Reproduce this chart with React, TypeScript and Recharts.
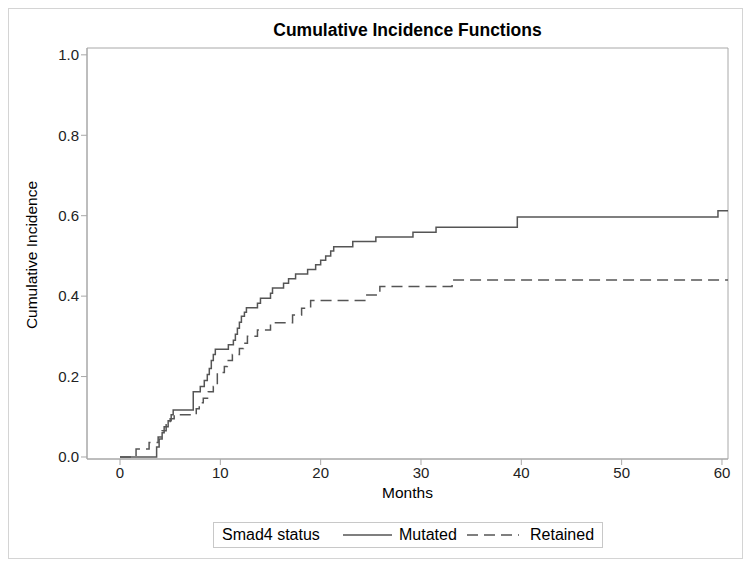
import React from 'react';
import {LineChart, Line, XAxis, YAxis, ReferenceArea} from 'recharts';

// step points: [months, cumulative incidence]
const mutatedMonths = [0, 3.65, 3.9, 4.2, 4.4, 4.8, 5.1, 5.3, 7.3, 8.0, 8.4, 8.7, 8.9, 9.1, 9.3, 9.5, 10.8, 11.3, 11.5, 11.7, 11.9, 12.1, 12.4, 12.6, 13.7, 14.0, 15.0, 15.2, 16.3, 16.8, 17.5, 18.7, 19.5, 20.0, 20.5, 21.0, 21.3, 23.2, 25.5, 29.2, 31.5, 39.6, 59.6, 60.6];
const mutatedCif = [0, 0.025, 0.045, 0.06, 0.075, 0.09, 0.105, 0.117, 0.162, 0.175, 0.19, 0.205, 0.22, 0.24, 0.255, 0.268, 0.279, 0.29, 0.305, 0.32, 0.335, 0.35, 0.36, 0.371, 0.382, 0.395, 0.407, 0.42, 0.432, 0.443, 0.455, 0.466, 0.478, 0.489, 0.5, 0.512, 0.523, 0.536, 0.547, 0.559, 0.571, 0.597, 0.612, 0.612];

const retainedMonths = [0, 1.6, 2.9, 3.8, 4.2, 4.6, 5.0, 5.4, 7.6, 7.9, 8.3, 8.8, 9.3, 9.7, 10.4, 10.7, 11.2, 11.9, 12.3, 12.7, 13.7, 15.0, 17.2, 18.1, 19.0, 24.6, 25.9, 33.1, 60.6];
const retainedCif = [0, 0.02, 0.036, 0.05, 0.065, 0.08, 0.095, 0.105, 0.12, 0.135, 0.146, 0.162, 0.175, 0.21, 0.225, 0.24, 0.255, 0.27, 0.283, 0.3, 0.316, 0.334, 0.353, 0.37, 0.389, 0.403, 0.424, 0.44, 0.44];

const xTicks = [0, 10, 20, 30, 40, 50, 60];
const yTicks = [0, 0.2, 0.4, 0.6, 0.8, 1.0];

const mutated = mutatedMonths.map((m, i) => ({month: m, cif: mutatedCif[i]}));
const retained = retainedMonths.map((m, i) => ({month: m, cif: retainedCif[i]}));

const font = '"Liberation Sans", Arial, sans-serif';
const lineColor = '#555555';
const frameColor = '#a8a8a8';

const X_MIN = -3.29, X_MAX = 60.6, Y_MIN = -0.005, Y_MAX = 1.017;

const legendText: React.CSSProperties = {position: 'absolute', top: 3, whiteSpace: 'nowrap'};

const App = () => {
    return (
        <div style={{position: 'relative', width: 735, height: 551, fontFamily: font}}>
            <div style={{position: 'absolute', left: 0, top: 0, width: 733, height: 549, border: '1px solid #d4d4d4'}}/>
            <div style={{position: 'absolute', left: 79, width: 641, top: 12, textAlign: 'center', fontWeight: 'bold', fontSize: 17.5, color: '#000'}}>
                Cumulative Incidence Functions
            </div>
            <LineChart width={735} height={551} margin={{top: 40, right: 15, bottom: 0, left: 0}} style={{position: 'absolute', left: 0, top: 0}}>
                <XAxis dataKey="month" type="number" domain={[X_MIN, X_MAX]} allowDataOverflow ticks={xTicks}
                       height={100} tickSize={6} stroke={frameColor}
                       tick={{fill: '#222', fontSize: 15, fontFamily: font}}/>
                <YAxis dataKey="cif" type="number" domain={[Y_MIN, Y_MAX]} allowDataOverflow ticks={yTicks}
                       width={79} tickSize={6} stroke={frameColor}
                       tickFormatter={(v: number) => v.toFixed(1)}
                       tick={{fill: '#222', fontSize: 15, fontFamily: font}}/>
                <ReferenceArea x1={X_MIN} x2={X_MAX} y1={Y_MIN} y2={Y_MAX} fill="none" stroke={frameColor} strokeOpacity={1}/>
                <Line data={mutated} dataKey="cif" type="stepAfter" stroke={lineColor} strokeWidth={1.5} dot={false} isAnimationActive={false}/>
                <Line data={retained} dataKey="cif" type="stepAfter" stroke={lineColor} strokeWidth={1.5} strokeDasharray="11 6" dot={false} isAnimationActive={false}/>
            </LineChart>
            <div style={{position: 'absolute', left: 79, width: 641, top: 476, textAlign: 'center', fontSize: 15.5, color: '#000'}}>
                Months
            </div>
            <div style={{position: 'absolute', left: 24, top: 247, width: 0, height: 0}}>
                <div style={{position: 'absolute', transform: 'translate(-50%, -50%) rotate(-90deg)', whiteSpace: 'nowrap', fontSize: 15.5, color: '#000'}}>
                    Cumulative Incidence
                </div>
            </div>
            <div style={{position: 'absolute', left: 205, top: 514, width: 388, height: 24, border: '1px solid #c8c8c8', fontSize: 16, color: '#000'}}>
                <span style={{...legendText, left: 8}}>Smad4 status</span>
                <svg style={{position: 'absolute', left: 129, top: 7}} width={49} height={10}>
                    <line x1={0} y1={5} x2={49} y2={5} stroke={lineColor} strokeWidth={1.5}/>
                </svg>
                <span style={{...legendText, left: 185}}>Mutated</span>
                <svg style={{position: 'absolute', left: 253, top: 7}} width={52} height={10}>
                    <line x1={0} y1={5} x2={52} y2={5} stroke={lineColor} strokeWidth={1.5} strokeDasharray="11 6"/>
                </svg>
                <span style={{...legendText, left: 316}}>Retained</span>
            </div>
        </div>
    );
};

export default App;
